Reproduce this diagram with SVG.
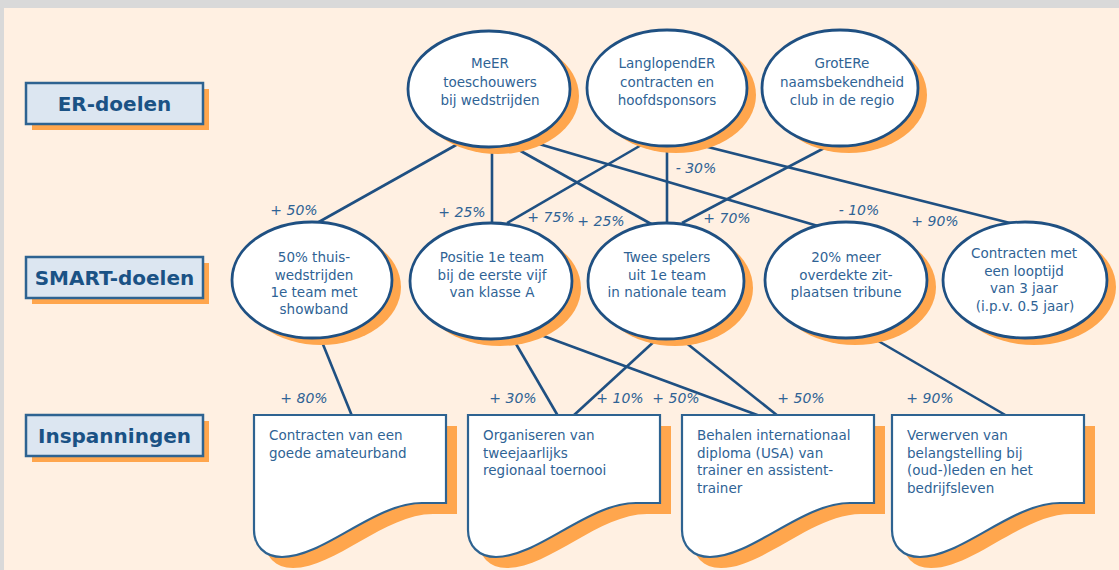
<svg xmlns="http://www.w3.org/2000/svg" width="1119" height="570" viewBox="0 0 1119 570">
<style>
.bg{fill:#fff0e2}
.lbl{fill:#dce6f1;stroke:#2e6391;stroke-width:2.5}
.lsh{fill:#ffa64d}
.lt{font-family:"DejaVu Sans",Verdana,sans-serif;font-weight:bold;font-size:20px;fill:#1a5285;text-anchor:middle}
.el{fill:#fff;stroke:#1f5082;stroke-width:2.8}
.sh{fill:#ffa64d}
.nt{font-family:"DejaVu Sans",Verdana,sans-serif;font-size:13.5px;fill:#2f6395;text-anchor:middle}
.dt{font-family:"DejaVu Sans",Verdana,sans-serif;font-size:13.5px;fill:#2f6395}
.doc{fill:#fff;stroke:#2e6391;stroke-width:2.2}
.cn line{stroke:#1f5082;stroke-width:2.6}
.pt{font-family:"DejaVu Sans",Verdana,sans-serif;font-style:italic;font-size:14px;fill:#2f6395;text-anchor:middle}
</style>
<defs>
<path id="docshape" d="M0 0 H192 V88 H168 C120 88 70 142 28 142 C10 142 0 130 0 115 Z"/>
</defs>
<rect x="0" y="0" width="1119" height="570" fill="#d9d9d9"/>
<rect class="bg" x="4" y="8" width="1115" height="562"/>

<g id="label-er">
<rect class="lsh" x="32" y="89" width="177" height="41"/>
<rect class="lbl" x="26" y="83" width="177" height="41"/>
<text class="lt" x="114.5" y="110.5">ER-doelen</text>
</g>
<g id="label-smart">
<rect class="lsh" x="32" y="263" width="177" height="41"/>
<rect class="lbl" x="26" y="257" width="177" height="41"/>
<text class="lt" x="114.5" y="284.5">SMART-doelen</text>
</g>
<g id="label-insp">
<rect class="lsh" x="32" y="421" width="177" height="41"/>
<rect class="lbl" x="26" y="415" width="177" height="41"/>
<text class="lt" x="114.5" y="442.5">Inspanningen</text>
</g>

<g id="connectors" class="cn">
<line x1="465" y1="140" x2="317" y2="223"/>
<line x1="492" y1="140" x2="492" y2="226"/>
<line x1="510" y1="145" x2="653" y2="225"/>
<line x1="522" y1="139" x2="818" y2="226"/>
<line x1="643" y1="144" x2="507" y2="223"/>
<line x1="667" y1="140" x2="667" y2="226"/>
<line x1="692" y1="143" x2="1010" y2="223"/>
<line x1="830" y1="145" x2="682" y2="223"/>
<line x1="320" y1="337" x2="352" y2="416"/>
<line x1="512" y1="337" x2="558" y2="416"/>
<line x1="530" y1="331" x2="760" y2="416"/>
<line x1="659" y1="337" x2="573" y2="416"/>
<line x1="680" y1="338" x2="778" y2="416"/>
<line x1="868" y1="335" x2="1007" y2="416"/>
<text class="pt" x="294" y="215">+ 50%</text>
<text class="pt" x="462" y="217">+ 25%</text>
<text class="pt" x="551" y="222">+ 75%</text>
<text class="pt" x="601" y="226">+ 25%</text>
<text class="pt" x="696" y="173">- 30%</text>
<text class="pt" x="727" y="223">+ 70%</text>
<text class="pt" x="859" y="215">- 10%</text>
<text class="pt" x="935" y="226">+ 90%</text>
<text class="pt" x="304" y="403">+ 80%</text>
<text class="pt" x="513" y="403">+ 30%</text>
<text class="pt" x="620" y="403">+ 10%</text>
<text class="pt" x="676" y="403">+ 50%</text>
<text class="pt" x="801" y="403">+ 50%</text>
<text class="pt" x="930" y="403">+ 90%</text>
</g>

<g id="er1">
<ellipse class="sh" cx="498" cy="96" rx="81" ry="58"/>
<ellipse class="el" cx="489" cy="89" rx="81" ry="58"/>
<text class="nt" x="490" y="68">MeER</text>
<text class="nt" x="490" y="86.5">toeschouwers</text>
<text class="nt" x="490" y="105">bij wedstrijden</text>
</g>
<g id="er2">
<ellipse class="sh" cx="676" cy="95" rx="80" ry="58"/>
<ellipse class="el" cx="667" cy="88" rx="80" ry="58"/>
<text class="nt" x="667" y="68">LanglopendER</text>
<text class="nt" x="667" y="86.5">contracten en</text>
<text class="nt" x="667" y="105">hoofdsponsors</text>
</g>
<g id="er3">
<ellipse class="sh" cx="849" cy="95" rx="78" ry="58"/>
<ellipse class="el" cx="840" cy="88" rx="78" ry="58"/>
<text class="nt" x="842" y="68">GrotERe</text>
<text class="nt" x="842" y="86.5">naamsbekendheid</text>
<text class="nt" x="842" y="105">club in de regio</text>
</g>

<g id="smart1">
<ellipse class="sh" cx="321" cy="287" rx="80" ry="58"/>
<ellipse class="el" cx="312" cy="280" rx="80" ry="58"/>
<text class="nt" x="314" y="262">50% thuis-</text>
<text class="nt" x="314" y="279.5">wedstrijden</text>
<text class="nt" x="314" y="297">1e team met</text>
<text class="nt" x="314" y="314">showband</text>
</g>
<g id="smart2">
<ellipse class="sh" cx="500" cy="288" rx="81" ry="58"/>
<ellipse class="el" cx="491" cy="281" rx="81" ry="58"/>
<text class="nt" x="492" y="262">Positie 1e team</text>
<text class="nt" x="492" y="279.5">bij de eerste vijf</text>
<text class="nt" x="492" y="297">van klasse A</text>
</g>
<g id="smart3">
<ellipse class="sh" cx="675" cy="288" rx="78" ry="58"/>
<ellipse class="el" cx="666" cy="281" rx="78" ry="58"/>
<text class="nt" x="667" y="262">Twee spelers</text>
<text class="nt" x="667" y="279.5">uit 1e team</text>
<text class="nt" x="667" y="297">in nationale team</text>
</g>
<g id="smart4">
<ellipse class="sh" cx="855" cy="287" rx="81" ry="58"/>
<ellipse class="el" cx="846" cy="280" rx="81" ry="58"/>
<text class="nt" x="846" y="262">20% meer</text>
<text class="nt" x="846" y="279.5">overdekte zit-</text>
<text class="nt" x="846" y="297">plaatsen tribune</text>
</g>
<g id="smart5">
<ellipse class="sh" cx="1034" cy="287" rx="82" ry="58"/>
<ellipse class="el" cx="1025" cy="280" rx="82" ry="58"/>
<text class="nt" x="1024" y="258">Contracten met</text>
<text class="nt" x="1024" y="276">een looptijd</text>
<text class="nt" x="1024" y="293">van 3 jaar</text>
<text class="nt" x="1025" y="311">(i.p.v. 0.5 jaar)</text>
</g>

<g id="insp1">
<use href="#docshape" class="sh" x="265" y="426"/>
<use href="#docshape" class="doc" x="254" y="415"/>
<text class="dt" x="269" y="440">Contracten van een</text>
<text class="dt" x="269" y="457.5">goede amateurband</text>
</g>
<g id="insp2">
<use href="#docshape" class="sh" x="479" y="426"/>
<use href="#docshape" class="doc" x="468" y="415"/>
<text class="dt" x="483" y="440">Organiseren van</text>
<text class="dt" x="483" y="457.5">tweejaarlijks</text>
<text class="dt" x="483" y="475">regionaal toernooi</text>
</g>
<g id="insp3">
<use href="#docshape" class="sh" x="693" y="426"/>
<use href="#docshape" class="doc" x="682" y="415"/>
<text class="dt" x="697" y="440">Behalen internationaal</text>
<text class="dt" x="697" y="457.5">diploma (USA) van</text>
<text class="dt" x="697" y="475">trainer en assistent-</text>
<text class="dt" x="697" y="492.5">trainer</text>
</g>
<g id="insp4">
<use href="#docshape" class="sh" x="903" y="426"/>
<use href="#docshape" class="doc" x="892" y="415"/>
<text class="dt" x="907" y="440">Verwerven van</text>
<text class="dt" x="907" y="457.5">belangstelling bij</text>
<text class="dt" x="907" y="475">(oud-)leden en het</text>
<text class="dt" x="907" y="492.5">bedrijfsleven</text>
</g>
</svg>
